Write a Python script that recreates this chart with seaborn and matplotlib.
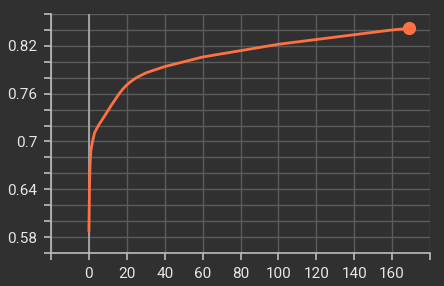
import matplotlib
matplotlib.use("Agg")
import matplotlib.pyplot as plt
import seaborn as sns
import pandas as pd
import numpy as np

steps = [0, 0.3, 0.6, 1, 2, 3, 5, 8, 12, 14, 16, 18, 20, 22, 25, 30, 35, 40,
         50, 60, 70, 80, 90, 100, 110, 120, 130, 140, 150, 160, 169]
values = [0.587, 0.64, 0.67, 0.688, 0.701, 0.711, 0.72, 0.731, 0.746, 0.753,
          0.760, 0.766, 0.771, 0.775, 0.780, 0.786, 0.790, 0.794, 0.800,
          0.806, 0.810, 0.814, 0.818, 0.822, 0.825, 0.828, 0.831, 0.834,
          0.837, 0.840, 0.842]
x_ticks = [0, 20, 40, 60, 80, 100, 120, 140, 160]
y_ticks = [0.58, 0.64, 0.7, 0.76, 0.82]
y_tick_labels = ["0.58", "0.64", "0.7", "0.76", "0.82"]

bg = "#303030"
line_color = "#ff7043"
text_color = "#e6e6e6"
grid_color = "#5c5c5c"

sns.set_style("dark")
plt.rcParams['font.family'] = ['Roboto', 'DejaVu Sans']

df = pd.DataFrame({"step": steps, "value": values})

fig = plt.figure(figsize=(4.44, 2.86), dpi=100, facecolor=bg)
ax = fig.add_axes([51/444, 33/286, 379/444, 239/286])
ax.set_facecolor(bg)

ax.set_xlim(-20, 180)
ax.set_ylim(0.56, 0.86)

xt = np.arange(-20, 181, 20)
yt = np.round(np.arange(0.56, 0.861, 0.02), 2)
ax.set_xticks(xt)
ax.set_yticks(yt)
ax.grid(True, color=grid_color, linewidth=1.0)
ax.axvline(0, color="#a8a8a8", linewidth=1.3, zorder=1.5)

sns.lineplot(data=df, x="step", y="value", ax=ax, color=line_color,
             linewidth=2.0, zorder=3)
ax.plot([steps[-1]], [values[-1]], "o", color=line_color, markersize=8.5,
        zorder=4)

ax.set_xticklabels([str(int(v)) if v in x_ticks else "" for v in xt])
ylabels = []
for v in yt:
    m = [l for t, l in zip(y_ticks, y_tick_labels) if abs(t - v) < 1e-6]
    ylabels.append(m[0] if m else "")
ax.set_yticklabels(ylabels)

ax.tick_params(axis="both", colors="#bdbdbd", labelcolor=text_color,
               labelsize=11, length=5, width=1.2, pad=5, left=True, bottom=True)
ax.set_xlabel("")
ax.set_ylabel("")

for s in ["top", "right"]:
    ax.spines[s].set_visible(False)
for s in ["left", "bottom"]:
    ax.spines[s].set_visible(True)
    ax.spines[s].set_color("#bdbdbd")
    ax.spines[s].set_linewidth(1.2)

fig.savefig("out.png", dpi=100, facecolor=bg)
